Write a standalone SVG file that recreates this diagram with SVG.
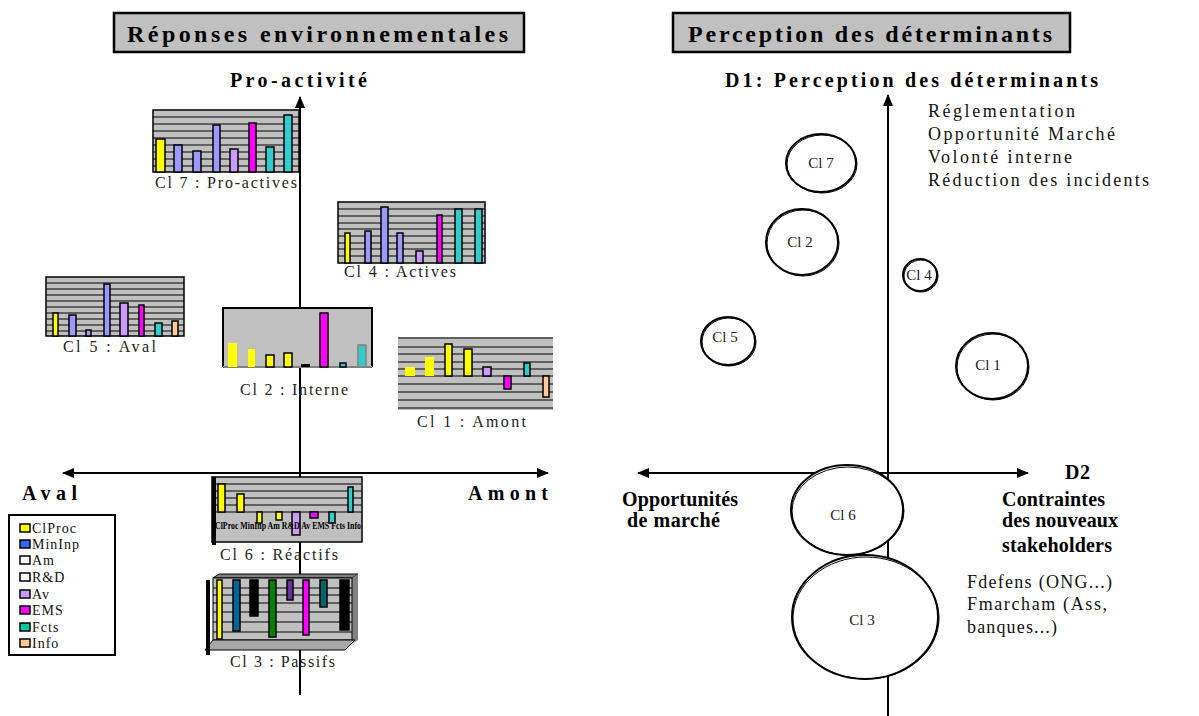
<svg xmlns="http://www.w3.org/2000/svg" width="1199" height="716" viewBox="0 0 1199 716">
<defs>
<marker id="ah" viewBox="0 0 12 10" refX="11" refY="5" markerWidth="12" markerHeight="10" markerUnits="userSpaceOnUse" orient="auto-start-reverse"><path d="M0,0 L12,5 L0,10 Z" fill="#000"/></marker>
</defs>
<style>
.ttl{font-family:"Liberation Serif",serif;font-weight:bold;font-size:24px;fill:#000}
.ax{font-family:"Liberation Serif",serif;font-weight:bold;font-size:20px;fill:#000}
.lbl{font-family:"Liberation Serif",serif;font-size:16px;fill:#222}
.txt{font-family:"Liberation Serif",serif;font-size:18px;fill:#111}
.cl{font-family:"Liberation Serif",serif;font-size:15px;fill:#222;text-anchor:middle}
.leg{font-family:"Liberation Serif",serif;font-size:14px;fill:#111;letter-spacing:1px}
.tick{font-family:"Liberation Serif",serif;font-weight:bold;font-size:11px;fill:#000}
.box{fill:#c0c0c0;stroke:#000;stroke-width:2.5}
.axis{stroke:#000;stroke-width:2;fill:none}
.plot{fill:#c0c0c0;stroke:#000;stroke-width:1.5}
.grid{stroke:#000;stroke-width:1.2}
.bar{stroke:#000;stroke-width:1.5}
.circ{fill:#fff;stroke:#000;stroke-width:2}
.circ2{fill:none;stroke:#000;stroke-width:1}
</style>
<rect width="1199" height="716" fill="#fff"/>

<g id="connectors">
<line class="axis" x1="300" y1="97" x2="300" y2="695" marker-start="url(#ah)"/>
<line class="axis" x1="63" y1="473" x2="548" y2="473" marker-start="url(#ah)" marker-end="url(#ah)"/>
<line class="axis" x1="888" y1="95" x2="888" y2="716" marker-start="url(#ah)"/>
<line class="axis" x1="638" y1="473" x2="1028" y2="473" marker-start="url(#ah)" marker-end="url(#ah)"/>
</g>

<g id="title-left">
<rect class="box" x="114" y="13" width="410" height="39"/>
<text class="ttl" x="127" y="42" textLength="381" lengthAdjust="spacing">Réponses environnementales</text>
</g>
<g id="title-right">
<rect class="box" x="673" y="13" width="397" height="39"/>
<text class="ttl" x="688" y="42" textLength="364" lengthAdjust="spacing">Perception des déterminants</text>
</g>

<g id="axis-labels-left">
<text class="ax" x="230" y="87" textLength="137" lengthAdjust="spacing">Pro-activité</text>
<text class="ax" x="22" y="500" textLength="55" lengthAdjust="spacing">Aval</text>
<text class="ax" x="468" y="500" textLength="80" lengthAdjust="spacing">Amont</text>
</g>

<g id="legend">
<rect x="9" y="515" width="106" height="140" fill="#fff" stroke="#000" stroke-width="2"/>
<rect x="20" y="524" width="10" height="8" fill="#ffff00" stroke="#000" stroke-width="1.5"/>
<text class="leg" x="32" y="533">ClProc</text>
<rect x="20" y="540" width="10" height="8" fill="#3366ff" stroke="#000" stroke-width="1.5"/>
<text class="leg" x="32" y="549">MinInp</text>
<rect x="20" y="556" width="10" height="8" fill="#fff" stroke="#000" stroke-width="1.5"/>
<text class="leg" x="32" y="565">Am</text>
<rect x="20" y="573" width="10" height="8" fill="#fff" stroke="#000" stroke-width="1.5"/>
<text class="leg" x="32" y="582">R&amp;D</text>
<rect x="20" y="590" width="10" height="8" fill="#cc99ff" stroke="#000" stroke-width="1.5"/>
<text class="leg" x="32" y="599">Av</text>
<rect x="20" y="606" width="10" height="8" fill="#ff00ff" stroke="#000" stroke-width="1.5"/>
<text class="leg" x="32" y="615">EMS</text>
<rect x="20" y="623" width="10" height="8" fill="#00cc99" stroke="#000" stroke-width="1.5"/>
<text class="leg" x="32" y="632">Fcts</text>
<rect x="20" y="639" width="10" height="8" fill="#ffcc99" stroke="#000" stroke-width="1.5"/>
<text class="leg" x="32" y="648">Info</text>
</g>

<g id="chart-cl7">
<rect class="plot" x="153" y="110" width="146" height="62"/>
<path class="grid" d="M153,117H299M153,124H299M153,131H299M153,138H299M153,145H299M153,152H299M153,159H299M153,166H299"/>
<rect class="bar" x="156" y="139" width="9" height="33" fill="#ffff00"/>
<rect class="bar" x="174" y="145" width="8" height="27" fill="#9999ff"/>
<rect class="bar" x="193" y="151" width="8" height="21" fill="#9999ff"/>
<rect class="bar" x="213" y="125" width="7" height="47" fill="#9999ff"/>
<rect class="bar" x="230" y="149" width="8" height="23" fill="#cc99ff"/>
<rect class="bar" x="249" y="123" width="7" height="49" fill="#ff00ff"/>
<rect class="bar" x="266" y="147" width="8" height="25" fill="#33cccc"/>
<rect class="bar" x="284" y="115" width="8" height="57" fill="#33cccc"/>
<text class="lbl" x="155" y="188" textLength="142" lengthAdjust="spacing">Cl 7 : Pro-actives</text>
</g>

<g id="chart-cl4">
<rect class="plot" x="338" y="202" width="147" height="61"/>
<path class="grid" d="M338,209H485M338,216H485M338,223H485M338,229H485M338,236H485M338,243H485M338,249H485M338,256H485"/>
<rect class="bar" x="345" y="233" width="5" height="30" fill="#ffff00"/>
<rect class="bar" x="365" y="231" width="6" height="32" fill="#9999ff"/>
<rect class="bar" x="381" y="207" width="7" height="56" fill="#9999ff"/>
<rect class="bar" x="397" y="233" width="6" height="30" fill="#9999ff"/>
<rect class="bar" x="416" y="251" width="7" height="12" fill="#cc99ff"/>
<rect class="bar" x="437" y="215" width="5" height="48" fill="#ff00ff"/>
<rect class="bar" x="455" y="209" width="7" height="54" fill="#33cccc"/>
<rect class="bar" x="475" y="209" width="7" height="54" fill="#33cccc"/>
<text class="lbl" x="344" y="277" textLength="112" lengthAdjust="spacing">Cl 4 : Actives</text>
</g>

<g id="chart-cl5">
<rect class="plot" x="46" y="277" width="138" height="59"/>
<path class="grid" d="M46,283H184M46,289H184M46,295H184M46,301H184M46,307H184M46,313H184M46,319H184M46,325H184M46,331H184"/>
<rect class="bar" x="53" y="313" width="5" height="23" fill="#ffff00"/>
<rect class="bar" x="69" y="315" width="7" height="21" fill="#9999ff"/>
<rect class="bar" x="86" y="330" width="5" height="6" fill="#9999ff"/>
<rect class="bar" x="104" y="284" width="6" height="52" fill="#9999ff"/>
<rect class="bar" x="120" y="303" width="8" height="33" fill="#cc99ff"/>
<rect class="bar" x="139" y="305" width="5" height="31" fill="#ff00ff"/>
<rect class="bar" x="155" y="323" width="7" height="13" fill="#33cccc"/>
<rect class="bar" x="172" y="321" width="6" height="15" fill="#ffcc99"/>
<text class="lbl" x="63" y="352" textLength="93" lengthAdjust="spacing">Cl 5 : Aval</text>
</g>

<g id="chart-cl2">
<rect x="223" y="308" width="149" height="59" fill="#c0c0c0"/>
<path d="M223,367V308H372V367" fill="none" stroke="#000" stroke-width="2"/>
<path d="M223,367H372" stroke="#808080" stroke-width="2"/>
<rect x="228" y="343" width="9" height="24" fill="#ffff00"/>
<rect x="248" y="349" width="7" height="18" fill="#ffff00"/>
<rect class="bar" x="266" y="355" width="8" height="12" fill="#ffff00"/>
<rect class="bar" x="284" y="353" width="8" height="14" fill="#ffff00"/>
<rect x="301" y="364" width="9" height="3" fill="#000"/>
<rect class="bar" x="320" y="313" width="8" height="54" fill="#ff00ff"/>
<rect class="bar" x="340" y="363" width="6" height="4" fill="#33cccc"/>
<rect x="358" y="345" width="8" height="22" fill="#33cccc" stroke="#808080" stroke-width="1.5"/>
<text class="lbl" x="240" y="395" textLength="108" lengthAdjust="spacing">Cl 2 : Interne</text>
</g>

<g id="chart-cl1">
<rect x="398" y="337" width="155" height="73" fill="#c0c0c0"/>
<path class="grid" d="M398,338H553M398,347H553M398,354H553M398,362H553M398,369H553M398,376H553M398,384H553M398,392H553M398,400H553M398,408H553"/>
<rect x="405" y="367" width="10" height="9" fill="#ffff00"/>
<rect x="425" y="357" width="9" height="19" fill="#ffff00"/>
<rect class="bar" x="445" y="344" width="7" height="32" fill="#ffff00"/>
<rect class="bar" x="464" y="349" width="8" height="27" fill="#ffff00"/>
<rect class="bar" x="483" y="367" width="8" height="9" fill="#cc99ff"/>
<rect class="bar" x="504" y="376" width="7" height="13" fill="#ff00ff"/>
<rect class="bar" x="524" y="363" width="6" height="13" fill="#33cccc"/>
<rect class="bar" x="543" y="376" width="6" height="21" fill="#ffcc99"/>
<text class="lbl" x="417" y="427" textLength="109" lengthAdjust="spacing">Cl 1 : Amont</text>
</g>

<g id="chart-cl6">
<rect class="plot" x="212" y="477" width="150" height="65"/>
<path class="grid" d="M212,484H362M212,491H362M212,498H362M212,505H362M212,512H362"/>
<line x1="214" y1="477" x2="214" y2="545" stroke="#000" stroke-width="4"/>
<rect class="bar" x="218" y="484" width="7" height="28" fill="#ffff00"/>
<rect class="bar" x="237" y="494" width="7" height="18" fill="#ffff00"/>
<rect class="bar" x="257" y="512" width="5" height="11" fill="#ffff00"/>
<rect class="bar" x="276" y="512" width="6" height="8" fill="#ffff00"/>
<rect class="bar" x="292" y="512" width="8" height="23" fill="#cc99ff"/>
<rect class="bar" x="310" y="512" width="8" height="6" fill="#ff00ff"/>
<rect class="bar" x="329" y="512" width="6" height="11" fill="#33cccc"/>
<rect class="bar" x="348" y="487" width="5" height="25" fill="#33cccc"/>
<text class="tick" x="215" y="529" textLength="146" lengthAdjust="spacingAndGlyphs">ClProc MinInp Am R&amp;D Av EMS Fcts Info</text>
<text class="lbl" x="220" y="560" textLength="118" lengthAdjust="spacing">Cl 6 : Réactifs</text>
</g>

<g id="chart-cl3">
<polygon points="213,578 219,574 358,574 352,578" fill="#808080" stroke="#000" stroke-width="1"/>
<polygon points="352,578 358,574 358,640 352,644" fill="#808080"/>
<rect x="213" y="578" width="139" height="62" fill="#c0c0c0" stroke="#000" stroke-width="1"/>
<path class="grid" d="M213,588H352M213,595H352M213,603H352M213,612H352M213,622H352M213,632H352"/>
<polygon points="205,650 345,650 355,640 213,640" fill="#a8a8a8" stroke="#000" stroke-width="1"/>
<line x1="208" y1="580" x2="208" y2="655" stroke="#000" stroke-width="4"/>
<rect class="bar" x="217" y="580" width="5" height="59" fill="#ffff00"/>
<rect class="bar" x="233" y="580" width="7" height="51" fill="#006699"/>
<rect class="bar" x="250" y="580" width="8" height="36" fill="#000"/>
<rect class="bar" x="269" y="580" width="7" height="57" fill="#008000"/>
<rect class="bar" x="287" y="580" width="6" height="20" fill="#663399"/>
<rect class="bar" x="303" y="580" width="6" height="55" fill="#ff00ff"/>
<rect class="bar" x="320" y="580" width="7" height="27" fill="#006666"/>
<rect class="bar" x="340" y="580" width="9" height="50" fill="#000"/>
<text class="lbl" x="230" y="667" textLength="105" lengthAdjust="spacing">Cl 3 : Passifs</text>
</g>

<g id="axis-labels-right">
<text class="ax" x="725" y="87" textLength="373" lengthAdjust="spacing">D1: Perception des déterminants</text>
<text class="ax" x="1065" y="479" textLength="25" lengthAdjust="spacing">D2</text>
<text class="ax" x="622" y="506" textLength="116" lengthAdjust="spacing">Opportunités</text>
<text class="ax" x="627" y="527" textLength="93" lengthAdjust="spacing">de marché</text>
<text class="ax" x="1002" y="506" textLength="103" lengthAdjust="spacing">Contraintes</text>
<text class="ax" x="1002" y="527" textLength="116" lengthAdjust="spacing">des nouveaux</text>
<text class="ax" x="1002" y="552" textLength="110" lengthAdjust="spacing">stakeholders</text>
</g>

<g id="determinants-text">
<text class="txt" x="928" y="117" textLength="147" lengthAdjust="spacing">Réglementation</text>
<text class="txt" x="928" y="140" textLength="187" lengthAdjust="spacing">Opportunité Marché</text>
<text class="txt" x="928" y="163" textLength="144" lengthAdjust="spacing">Volonté interne</text>
<text class="txt" x="928" y="186" textLength="221" lengthAdjust="spacing">Réduction des incidents</text>
</g>
<g id="stakeholders-text">
<text class="txt" x="967" y="588" textLength="145" lengthAdjust="spacing">Fdefens (ONG...)</text>
<text class="txt" x="967" y="610" textLength="140" lengthAdjust="spacing">Fmarcham (Ass,</text>
<text class="txt" x="967" y="633" textLength="90" lengthAdjust="spacing">banques...)</text>
</g>

<g id="circle-cl7">
<ellipse class="circ" cx="821" cy="163" rx="35" ry="29"/>
<ellipse class="circ2" cx="822" cy="164" rx="35" ry="29"/>
<text class="cl" x="821" y="168">Cl 7</text>
</g>
<g id="circle-cl2">
<ellipse class="circ" cx="802" cy="242" rx="36" ry="33"/>
<ellipse class="circ2" cx="803" cy="243" rx="36" ry="33"/>
<text class="cl" x="800" y="247">Cl 2</text>
</g>
<g id="circle-cl4">
<ellipse class="circ" cx="920" cy="275" rx="17" ry="16"/>
<ellipse class="circ2" cx="921" cy="276" rx="17" ry="16"/>
<text class="cl" x="919" y="280">Cl 4</text>
</g>
<g id="circle-cl5">
<ellipse class="circ" cx="728" cy="341" rx="27" ry="24"/>
<ellipse class="circ2" cx="729" cy="342" rx="27" ry="24"/>
<text class="cl" x="725" y="342">Cl 5</text>
</g>
<g id="circle-cl1">
<ellipse class="circ" cx="992" cy="366" rx="36" ry="33"/>
<ellipse class="circ2" cx="993" cy="367" rx="36" ry="33"/>
<text class="cl" x="988" y="370">Cl 1</text>
</g>
<g id="circle-cl6">
<ellipse class="circ" cx="847" cy="510" rx="56" ry="45"/>
<ellipse class="circ2" cx="848" cy="511" rx="56" ry="44"/>
<text class="cl" x="843" y="520">Cl 6</text>
</g>
<g id="circle-cl3">
<ellipse class="circ" cx="865" cy="617" rx="73" ry="62"/>
<ellipse class="circ2" cx="866" cy="618" rx="73" ry="61"/>
<text class="cl" x="862" y="625">Cl 3</text>
</g>
</svg>
